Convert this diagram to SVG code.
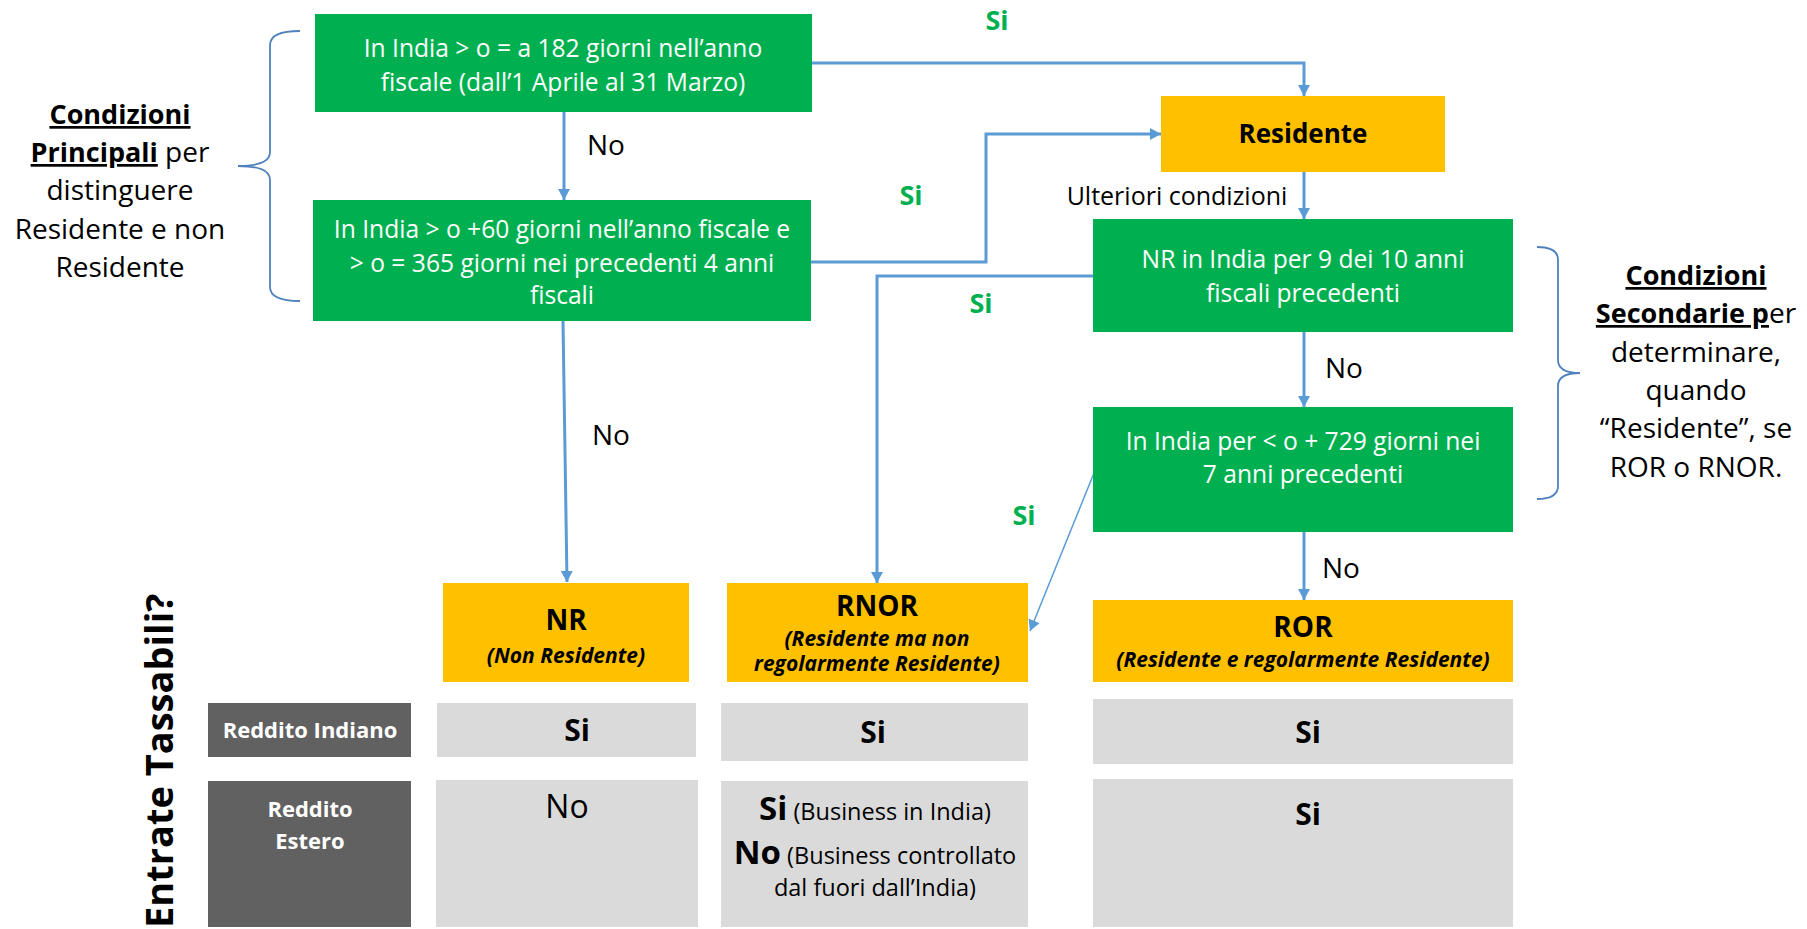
<svg xmlns="http://www.w3.org/2000/svg" width="1807" height="929" viewBox="0 0 1807 929">
<style>
  text { font-family: "Open Sans", "Liberation Sans", sans-serif; }
  .green { fill: #00B050; }
  .orange { fill: #FFC000; }
  .dark { fill: #616161; }
  .cell { fill: #DADADA; }
  .wt { fill: #FFFFFF; font-size: 24.6px; text-anchor: middle; }
  .lbl { fill: #000000; font-size: 28px; }
  .si { fill: #00B050; font-size: 27px; font-weight: bold; text-anchor: middle; }
  .side { fill: #000000; font-size: 28px; text-anchor: middle; }
  .ul { font-weight: bold; text-decoration: underline; font-size: 27px; }
  .title { fill: #000000; font-size: 28px; font-weight: bold; text-anchor: middle; }
  .sub { fill: #000000; font-size: 21px; font-weight: bold; font-style: italic; text-anchor: middle; }
  .hdr { fill: #FFFFFF; font-size: 22px; font-weight: bold; text-anchor: middle; }
  .val { fill: #000000; font-size: 30px; font-weight: bold; text-anchor: middle; }
  .conn { fill: none; stroke: #5B9BD5; stroke-width: 3; }
  .thin { fill: none; stroke: #5B9BD5; stroke-width: 1.5; }
  .brace { fill: none; stroke: #4F81BD; stroke-width: 1.8; }
</style>
<defs>
  <marker id="arr" markerUnits="userSpaceOnUse" markerWidth="12" markerHeight="12" refX="11" refY="6" orient="auto">
    <path d="M0,0 L11,6 L0,12 z" fill="#5B9BD5"/>
  </marker>
</defs>
<rect width="1807" height="929" fill="#FFFFFF"/>

<g id="connectors">
  <path class="conn" d="M564,112 L564,200" marker-end="url(#arr)"/>
  <path class="conn" d="M812,63 L1304,63 L1304,96" marker-end="url(#arr)"/>
  <path class="conn" d="M811,262 L986,262 L986,134 L1161,134" marker-end="url(#arr)"/>
  <path class="conn" d="M1304,172 L1304,219" marker-end="url(#arr)"/>
  <path class="conn" d="M1093,276 L877,276 L877,583" marker-end="url(#arr)"/>
  <path class="conn" d="M563,321 L567,582" marker-end="url(#arr)"/>
  <path class="conn" d="M1304,332 L1304,407" marker-end="url(#arr)"/>
  <path class="conn" d="M1304,532 L1304,600" marker-end="url(#arr)"/>
  <path class="thin" d="M1094,473 L1030,631" marker-end="url(#arr)"/>
  <text class="si" x="997" y="30">Si</text>
  <text class="si" x="911" y="205">Si</text>
  <text class="si" x="981" y="313">Si</text>
  <text class="si" x="1024" y="525">Si</text>
  <text class="lbl" x="587" y="155">No</text>
  <text class="lbl" x="592" y="445">No</text>
  <text class="lbl" x="1325" y="378">No</text>
  <text class="lbl" x="1322" y="578">No</text>
  <text x="1177" y="205" fill="#000000" font-size="25" text-anchor="middle">Ulteriori condizioni</text>
</g>

<g id="cond1">
  <rect class="green" x="315" y="14" width="497" height="98"/>
  <text class="wt" x="563" y="57">In India &gt; o = a 182 giorni nell’anno</text>
  <text class="wt" x="563" y="91">fiscale (dall’1 Aprile al 31 Marzo)</text>
</g>

<g id="cond2">
  <rect class="green" x="313" y="200" width="498" height="121"/>
  <text class="wt" x="562" y="238">In India &gt; o +60 giorni nell’anno fiscale e</text>
  <text class="wt" x="562" y="272">&gt; o = 365 giorni nei precedenti 4 anni</text>
  <text class="wt" x="562" y="304">fiscali</text>
</g>

<g id="residente">
  <rect class="orange" x="1161" y="96" width="284" height="76"/>
  <text x="1303" y="143" fill="#000000" font-size="26" font-weight="bold" text-anchor="middle">Residente</text>
</g>

<g id="cond3">
  <rect class="green" x="1093" y="219" width="420" height="113"/>
  <text class="wt" x="1303" y="268">NR in India per 9 dei 10 anni</text>
  <text class="wt" x="1303" y="302">fiscali precedenti</text>
</g>

<g id="cond4">
  <rect class="green" x="1093" y="407" width="420" height="125"/>
  <text class="wt" x="1303" y="450">In India per &lt; o + 729 giorni nei</text>
  <text class="wt" x="1303" y="483">7 anni precedenti</text>
</g>

<g id="nr">
  <rect class="orange" x="443" y="583" width="246" height="99"/>
  <text class="title" x="566" y="630">NR</text>
  <text class="sub" x="566" y="663">(Non Residente)</text>
</g>

<g id="rnor">
  <rect class="orange" x="727" y="583" width="301" height="99"/>
  <text class="title" x="877" y="616">RNOR</text>
  <text class="sub" x="877" y="646">(Residente ma non</text>
  <text class="sub" x="877" y="671">regolarmente Residente)</text>
</g>

<g id="ror">
  <rect class="orange" x="1093" y="600" width="420" height="82"/>
  <text class="title" x="1303" y="637">ROR</text>
  <text class="sub" x="1303" y="667">(Residente e regolarmente Residente)</text>
</g>

<g id="left-note">
  <path class="brace" d="M300,31 Q270,31 270,45 L270,152 Q270,166 238,166 Q270,166 270,180 L270,287 Q270,301 300,301"/>
  <text class="side" x="120" y="124"><tspan class="ul">Condizioni</tspan></text>
  <text class="side" x="120" y="162"><tspan class="ul">Principali</tspan> per</text>
  <text class="side" x="120" y="200">distinguere</text>
  <text class="side" x="120" y="239">Residente e non</text>
  <text class="side" x="120" y="277">Residente</text>
</g>

<g id="right-note">
  <path class="brace" d="M1537,247 Q1558,247 1558,260 L1558,360 Q1558,373 1580,373 Q1558,373 1558,386 L1558,486 Q1558,499 1537,499"/>
  <text class="side" x="1696" y="285"><tspan class="ul">Condizioni</tspan></text>
  <text class="side" x="1696" y="323"><tspan class="ul">Secondarie p</tspan>er</text>
  <text class="side" x="1696" y="362">determinare,</text>
  <text class="side" x="1696" y="400">quando</text>
  <text class="side" x="1696" y="438">“Residente”, se</text>
  <text class="side" x="1696" y="477">ROR o RNOR.</text>
</g>

<g id="table">
  <text x="173" y="928" transform="rotate(-90 173 928)" fill="#000000" font-size="38" font-weight="bold">Entrate Tassabili?</text>
  <rect class="dark" x="208" y="703" width="203" height="54"/>
  <text class="hdr" x="310" y="738">Reddito Indiano</text>
  <rect class="dark" x="208" y="781" width="203" height="146"/>
  <text class="hdr" x="310" y="817">Reddito</text>
  <text class="hdr" x="310" y="849">Estero</text>

  <rect class="cell" x="437" y="703" width="259" height="54"/>
  <text class="val" x="577" y="741">Si</text>
  <rect class="cell" x="436" y="780" width="262" height="147"/>
  <text x="567" y="818" fill="#000000" font-size="32" text-anchor="middle">No</text>

  <rect class="cell" x="721" y="703" width="307" height="58"/>
  <text class="val" x="873" y="743">Si</text>
  <rect class="cell" x="721" y="781" width="307" height="146"/>
  <text x="875" y="820" fill="#000000" font-size="23.5" text-anchor="middle"><tspan font-size="33" font-weight="bold">Si</tspan> (Business in India)</text>
  <text x="875" y="864" fill="#000000" font-size="23.5" text-anchor="middle"><tspan font-size="33" font-weight="bold">No</tspan> (Business controllato</text>
  <text x="875" y="896" fill="#000000" font-size="23.5" text-anchor="middle">dal fuori dall’India)</text>

  <rect class="cell" x="1093" y="699" width="420" height="65"/>
  <text class="val" x="1308" y="743">Si</text>
  <rect class="cell" x="1093" y="779" width="420" height="148"/>
  <text class="val" x="1308" y="825">Si</text>
</g>
</svg>
